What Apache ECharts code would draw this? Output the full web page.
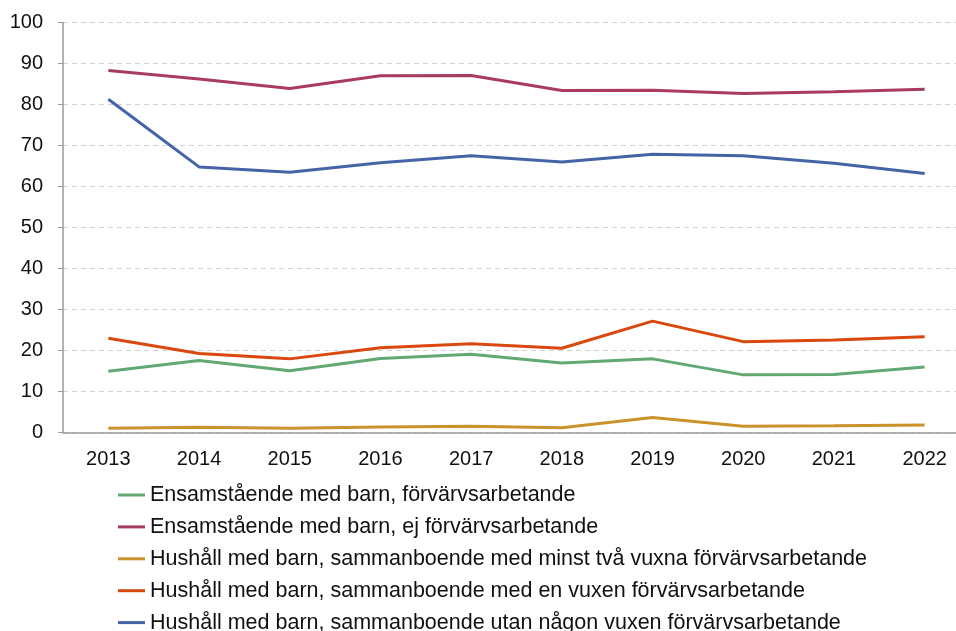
<!DOCTYPE html>
<html>
<head>
<meta charset="utf-8">
<script src="https://cdn.jsdelivr.net/npm/echarts@6/dist/echarts.min.js"></script>
<style>
  html, body { margin: 0; padding: 0; background: #fff; overflow: hidden; }
  #chart { width: 975px; height: 631px; }
</style>
</head>
<body>
<div id="chart"></div>
<script>
const years = ['2013', '2014', '2015', '2016', '2017', '2018', '2019', '2020', '2021', '2022']

const ensamForv = [15.0, 17.6, 15.1, 18.1, 19.1, 17.0, 18.0, 14.1, 14.2, 16.0]
const ensamEj = [88.3, 86.2, 83.9, 87.0, 87.1, 83.4, 83.5, 82.7, 83.1, 83.7]
const minstTva = [1.1, 1.3, 1.1, 1.4, 1.6, 1.2, 3.7, 1.6, 1.7, 1.9]
const enVuxen = [23.0, 19.3, 18.0, 20.7, 21.7, 20.6, 27.2, 22.2, 22.6, 23.4]
const utanVuxen = [81.3, 64.8, 63.5, 65.8, 67.5, 66.0, 67.9, 67.5, 65.7, 63.2]

const seriesDefs = [
  { name: 'Ensamstående med barn, förvärvsarbetande', data: ensamForv, color: '#62a872' },
  { name: 'Ensamstående med barn, ej förvärvsarbetande', data: ensamEj, color: '#a83a64' },
  { name: 'Hushåll med barn, sammanboende med minst två vuxna förvärvsarbetande', data: minstTva, color: '#c9922b' },
  { name: 'Hushåll med barn, sammanboende med en vuxen förvärvsarbetande', data: enVuxen, color: '#d9480f' },
  { name: 'Hushåll med barn, sammanboende utan någon vuxen förvärvsarbetande', data: utanVuxen, color: '#4464a6' }
]

const font = 'Liberation Sans, Arial, sans-serif'
// the plot runs past the right edge of the picture, so the canvas is a bit wider than the window
const chart = echarts.init(document.getElementById('chart'))

chart.setOption({
  animation: false,
  grid: {
    left: 63,
    right: 5,
    top: 22.5,
    bottom: 198.3,
    containLabel: false
  },
  legend: {
    orient: 'vertical',
    left: 118,
    top: 484,
    height: 160,
    padding: 0,
    icon: 'rect',
    itemWidth: 27,
    itemHeight: 3,
    itemGap: 9.9,
    textStyle: { fontFamily: font, fontSize: 21.5, lineHeight: 20, color: '#111' },
    data: seriesDefs.map(s => s.name)
  },
  xAxis: {
    type: 'category',
    data: years,
    boundaryGap: true,
    axisLine: { lineStyle: { color: '#9a9a9a', width: 1.5 } },
    axisTick: { show: false },
    axisLabel: { fontFamily: font, fontSize: 20, color: '#111', margin: 17 }
  },
  yAxis: {
    type: 'value',
    min: 0,
    max: 100,
    interval: 10,
    axisLine: { show: true, lineStyle: { color: '#9a9a9a', width: 1.5 } },
    axisTick: { show: true, length: 5, lineStyle: { color: '#9a9a9a' } },
    axisLabel: { fontFamily: font, fontSize: 20, color: '#111', margin: 20 },
    splitLine: { lineStyle: { color: '#d2d2d2', type: [5, 4], width: 1 } }
  },
  series: seriesDefs.map(s => ({
    name: s.name,
    type: 'line',
    data: s.data,
    symbol: 'none',
    color: s.color,
    lineStyle: { color: s.color, width: 3 }
  }))
})
</script>
</body>
</html>
